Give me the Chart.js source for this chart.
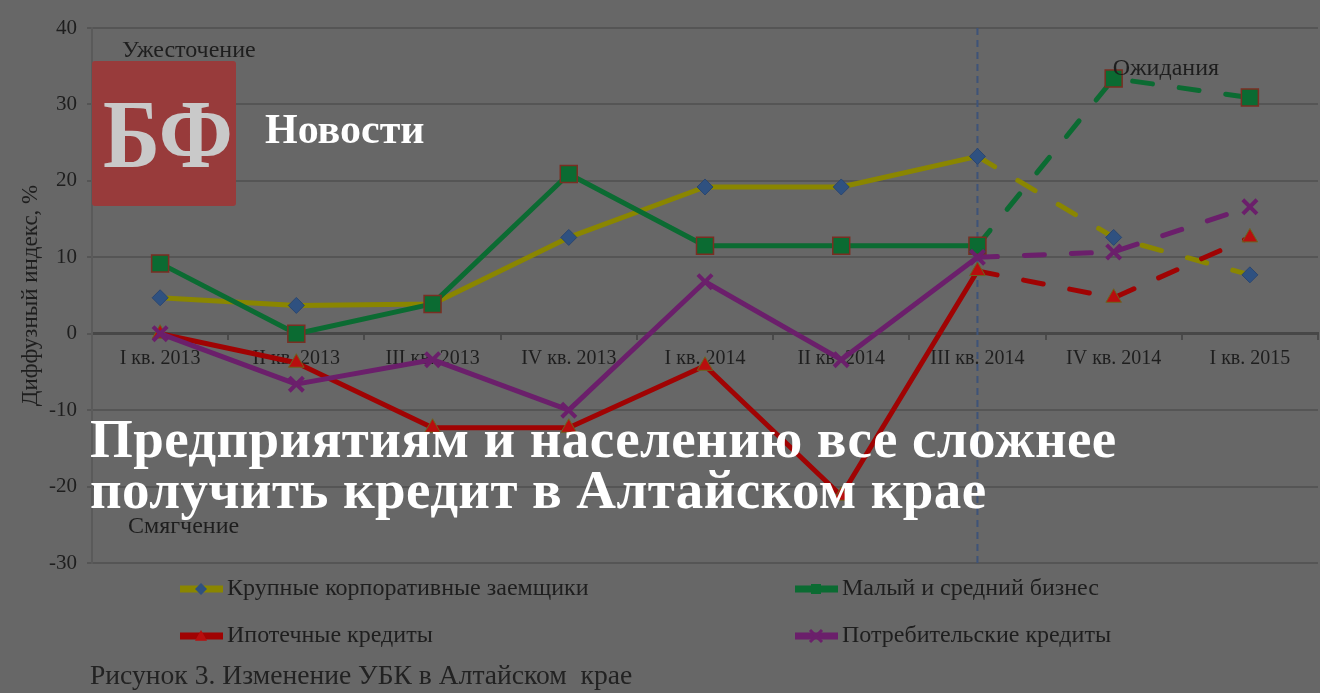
<!DOCTYPE html>
<html lang="ru">
<head>
<meta charset="UTF-8">
<title>Изменение УБК в Алтайском крае</title>
<script src="https://cdn.jsdelivr.net/npm/chart.js"></script>
<style>
  body { margin: 0; background: #676767; }
  #wrap { position: relative; width: 1320px; height: 693px; overflow: hidden; }
  #chart { display: block; }
  .logo { position: absolute; left: 92px; top: 61px; width: 144px; height: 145px; background: #983b3b; border-radius: 3px; }
  .ov { position: absolute; font-family: "Liberation Serif", serif; font-weight: bold; line-height: 1; white-space: nowrap; }
  .bf { left: 103px; top: 85px; font-size: 98px; color: #c9c9c9; transform: scaleX(0.88); transform-origin: left top; }
  .news { left: 265px; top: 108px; font-size: 42px; color: #fff; }
  .head { left: 90px; font-size: 55px; letter-spacing: 0.4px; color: #fff; }
</style>
</head>
<body>
<div id="wrap">
  <!-- холст чуть шире окна: правый край области графика должен прийтись на 1317px -->
  <canvas id="chart" width="1332" height="693"></canvas>
  <div class="logo"></div>
  <div class="ov bf">БФ</div>
  <div class="ov news">Новости</div>
  <div class="ov head" style="top:411px">Предприятиям и населению все сложнее</div>
  <div class="ov head" style="top:462px">получить кредит в Алтайском крае</div>
</div>
<script>
  // кварталы и значения диффузного индекса
  const quarters = ["I кв. 2013", "II кв. 2013", "III кв. 2013", "IV кв. 2013", "I кв. 2014", "II кв. 2014", "III кв. 2014", "IV кв. 2014", "I кв. 2015"];
  const largeCorp = [4.7, 3.7, 3.9, 12.6, 19.2, 19.2, 23.2, 12.6, 7.7];
  const smallBiz = [9.2, 0, 3.9, 20.9, 11.5, 11.5, 11.5, 33.4, 30.9];
  const mortgage = [0, -3.8, -12.3, -12.3, -4.2, -21.2, 8.2, 4.7, 12.6];
  const consumer = [0, -6.6, -3.4, -10, 6.8, -3.4, 10, 10.7, 16.6];
  const yTicks = [-30, -20, -10, 0, 10, 20, 30, 40];
  const forecastFrom = 6; // с III кв. 2014 — ожидания

  const serif = "'Liberation Serif', 'Times New Roman', serif";
  const dash = ctx => ctx.p0DataIndex >= forecastFrom ? [20, 27] : undefined;

  function series(label, data, color, style, extra) {
    return Object.assign({
      label: label,
      data: data,
      borderColor: color,
      borderWidth: 5,
      borderCapStyle: "round",
      borderJoinStyle: "round",
      pointStyle: style,
      tension: 0,
      segment: { borderDash: dash }
    }, extra);
  }

  const datasets = [
    series("Крупные корпоративные заемщики", largeCorp, "#8a8600", "rectRot",
      { pointRadius: 8, pointBackgroundColor: "#2f5180", pointBorderColor: "#2a4670", pointBorderWidth: 1, order: 4 }),
    series("Малый и средний бизнес", smallBiz, "#0b6b32", "rect",
      { pointRadius: 12, pointBackgroundColor: "#0b6b32", pointBorderColor: "#7a2e22", pointBorderWidth: 1.5, order: 3 }),
    series("Ипотечные кредиты", mortgage, "#a00303", "triangle",
      { pointRadius: 9, pointBackgroundColor: "#b80e0e", pointBorderColor: "#6a6520", pointBorderWidth: 1, order: 2 }),
    series("Потребительские кредиты", consumer, "#6b1f6b", "crossRot",
      { pointRadius: 10, pointBackgroundColor: "#6b1f6b", pointBorderColor: "#6b1f6b", pointBorderWidth: 4, order: 1 })
  ];

  function marker(ctx, ds, x, y, s) {
    ctx.save();
    ctx.fillStyle = ds.pointBackgroundColor;
    ctx.strokeStyle = ds.pointBorderColor;
    ctx.lineWidth = ds.pointStyle === "crossRot" ? 3 : 1;
    ctx.beginPath();
    if (ds.pointStyle === "rectRot") {
      ctx.moveTo(x, y - s); ctx.lineTo(x + s, y); ctx.lineTo(x, y + s); ctx.lineTo(x - s, y); ctx.closePath(); ctx.fill();
    } else if (ds.pointStyle === "rect") {
      ctx.rect(x - s, y - s, 2 * s, 2 * s); ctx.fill();
    } else if (ds.pointStyle === "triangle") {
      ctx.moveTo(x, y - s); ctx.lineTo(x + s, y + s * 0.8); ctx.lineTo(x - s, y + s * 0.8); ctx.closePath(); ctx.fill();
    } else {
      ctx.moveTo(x - s, y - s); ctx.lineTo(x + s, y + s); ctx.moveTo(x + s, y - s); ctx.lineTo(x - s, y + s); ctx.stroke();
    }
    ctx.restore();
  }

  const extras = {
    id: "extras",
    beforeDatasetsDraw(chart) {
      const { ctx, chartArea, scales } = chart;
      const x = scales.x.getPixelForValue(forecastFrom);
      ctx.save();
      ctx.strokeStyle = "#3e5378";
      ctx.lineWidth = 2;
      ctx.setLineDash([7, 5]);
      ctx.beginPath();
      ctx.moveTo(x, chartArea.top);
      ctx.lineTo(x, chartArea.bottom);
      ctx.stroke();
      ctx.restore();
    },
    afterDraw(chart) {
      const { ctx, chartArea, scales } = chart;
      ctx.save();
      ctx.fillStyle = "#1e1e1e";
      ctx.textBaseline = "middle";
      ctx.font = "24px " + serif;
      ctx.fillText("Ужесточение", chartArea.left + 30, scales.y.getPixelForValue(37.0));
      ctx.fillText("Смягчение", chartArea.left + 36, scales.y.getPixelForValue(-25.3));
      ctx.fillText("Ожидания", scales.x.getPixelForValue(7) - 1, scales.y.getPixelForValue(34.7));

      // легенда 2 x 2
      const cols = [180, 795], rows = [589, 636];
      ctx.font = "24px " + serif;
      datasets.forEach((ds, i) => {
        const lx = cols[i % 2], ly = rows[Math.floor(i / 2)];
        ctx.strokeStyle = ds.borderColor;
        ctx.lineWidth = 7;
        ctx.beginPath();
        ctx.moveTo(lx, ly);
        ctx.lineTo(lx + 43, ly);
        ctx.stroke();
        marker(ctx, ds, lx + 21, ly, ds.pointStyle === "rect" ? 5 : 6);
        ctx.fillStyle = "#1e1e1e";
        ctx.fillText(ds.label, lx + 47, ly);
      });

      ctx.font = "27.6px " + serif;
      ctx.textBaseline = "alphabetic";
      ctx.fillStyle = "#222";
      ctx.fillText("Рисунок 3. Изменение УБК в Алтайском  крае", 90, 684);
      ctx.restore();
    }
  };

  new Chart(document.getElementById("chart"), {
    type: "line",
    data: { labels: quarters, datasets: datasets },
    options: {
      responsive: false,
      animation: false,
      layout: { padding: { left: 0, top: 28, right: 3, bottom: 130 } },
      plugins: { legend: { display: false }, tooltip: { enabled: false } },
      scales: {
        x: {
          position: { y: 0 },
          offset: true,
          afterFit: s => { s.paddingLeft = 0; s.paddingRight = 0; },
          grid: { offset: true, drawOnChartArea: false, color: "#4a4a4a", lineWidth: 2, tickLength: 5 },
          border: { color: "#474747", width: 3 },
          ticks: { color: "#1e1e1e", padding: 8, font: { family: serif, size: 20 }, maxRotation: 0 }
        },
        y: {
          min: -30,
          max: 40,
          afterBuildTicks: s => { s.ticks = yTicks.map(v => ({ value: v })); },
          afterFit: s => { s.width = 92; },
          grid: { color: "#555", lineWidth: 2, tickLength: 5 },
          border: { color: "#5a5a5a", width: 2 },
          ticks: { color: "#1e1e1e", padding: 10, font: { family: serif, size: 21 } },
          title: { display: true, text: "Диффузный индекс, %", color: "#1e1e1e", font: { family: serif, size: 23 }, padding: { top: 17 } }
        }
      }
    },
    plugins: [extras]
  });
</script>
</body>
</html>
